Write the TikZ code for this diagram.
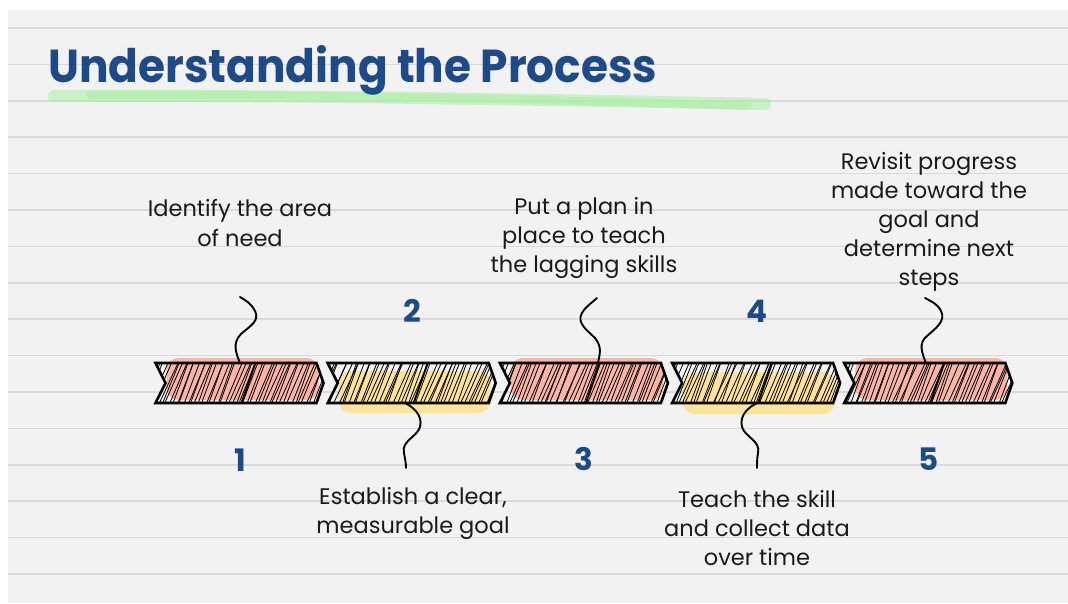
\documentclass[tikz,border=0pt]{standalone}
\usepackage{graphicx}
\usepackage{fontspec}
\setmainfont{Poppins}
\newfontfamily\titlefont{Poppins}
\definecolor{panel}{HTML}{F2F2F2}
\definecolor{ruleline}{HTML}{DADADA}
\definecolor{titleblue}{HTML}{1E4A87}
\definecolor{pinkblob}{HTML}{FBB5A6}
\definecolor{yellowblob}{HTML}{FEE39B}
\definecolor{greenmark}{HTML}{A9F0A2}
\definecolor{bodytext}{HTML}{1A1A1A}
\begin{document}
\begin{tikzpicture}[x=1pt,y=-1pt,
  body/.style={font=\fontsize{22.5}{29}\selectfont, text=bodytext, align=center, inner sep=0pt},
  num/.style={font=\titlefont\bfseries\fontsize{31}{31}\selectfont, text=titleblue, inner sep=0pt},
  chev/.style={draw=black, line width=2.6pt, line join=miter},
  hatch/.style={line width=0.8pt, draw=black},
  divider/.style={line width=1.9pt, draw=black},
  squig/.style={line width=1.9pt, line cap=round, draw=black},
  ruled/.style={draw=ruleline, line width=1.6pt},
  brush/.style={draw=greenmark, line cap=round}
]
\useasboundingbox (0,0) rectangle (1068,603);
\fill[white] (0,0) rectangle (1068,603);
\fill[panel] (8,10) rectangle (1068,603);
\foreach \i in {0,...,15} \draw[ruled] (8,28+36.4*\i) -- (1068,28+36.4*\i);

% title highlight
\draw[brush, opacity=0.55, line width=12pt] (54,96) .. controls (300,95) and (500,99) .. (765,104);
\draw[brush, opacity=0.5, line width=8pt] (90,95) .. controls (300,94) and (550,99) .. (748,106);
\node[anchor=base west, inner sep=0pt, text=titleblue] (title) at (48,82)
  {\resizebox{609pt}{37pt}{\titlefont\bfseries Understanding the Process}};

% chevrons
\pgfmathsetseed{11}
\foreach \i/\col/\ya in {0/pinkblob/358,1/yellowblob/371,2/pinkblob/358,3/yellowblob/372,4/pinkblob/358}{
  \pgfmathsetmacro\L{155.5+172.2*\i}
  \fill[\col, rounded corners=12pt] (\L+11,\ya) rectangle (\L+163,\ya+42);
  \begin{scope}
    \clip (\L,363) -- (\L+161,363) -- (\L+168,383) -- (\L+161,403) -- (\L,403) -- (\L+10,383) -- cycle;
    \foreach \k in {-8,...,46}{
      \pgfmathsetmacro\hx{\L+\k*3.7+3*rnd}
      \pgfmathsetmacro\hd{16+6*rnd}
      \draw[hatch] (\hx,406) -- (\hx+\hd,360);
    }
  \end{scope}
  \draw[divider] (\L+100,363) -- (\L+86,403);
  \draw[chev] (\L,363) -- (\L+161,363) -- (\L+168,383) -- (\L+161,403) -- (\L,403) -- (\L+10,383) -- cycle;
}

% labels
\node[body] (l1) at (240,223) {Identify the area\\of need};
\node[body] (l2) at (413,513) {Establish a clear,\\measurable goal};
\node[body] (l3) at (584,238) {Put a plan in\\place to teach\\the lagging skills};
\node[body] (l4) at (757,528) {Teach the skill\\and collect data\\over time};
\node[body] (l5) at (929,222) {Revisit progress\\made toward the\\goal and\\determine next\\steps};

% numbers
\node[num] (n1) at (240,460) {1};
\node[num] (n2) at (412,311) {2};
\node[num] (n3) at (584,459) {3};
\node[num] (n4) at (757,311) {4};
\node[num] (n5) at (929,459) {5};

% squiggle connectors
\begin{scope}[shift={(240,363)}]
  \coordinate (a1) at (0,0); \coordinate (b1) at (0,-66);
  \draw[squig] (a1) .. controls (-4,-10) and (-8,-20) .. (1,-29) .. controls (10,-37) and (20,-42) .. (15,-52) .. controls (11,-60) and (5,-63) .. (b1);
\end{scope}
\begin{scope}[shift={(598,363)}]
  \coordinate (a3) at (0,0); \coordinate (b3) at (-1,-65);
  \draw[squig] (a3) .. controls (2,-10) and (4,-16) .. (-3,-25) .. controls (-10,-32) and (-22,-40) .. (-16,-50) .. controls (-12,-57) and (-5,-61) .. (b3);
\end{scope}
\begin{scope}[shift={(926,363)}]
  \coordinate (a5) at (0,0); \coordinate (b5) at (-1,-65);
  \draw[squig] (a5) .. controls (-4,-10) and (-8,-20) .. (1,-27) .. controls (10,-35) and (20,-42) .. (15,-52) .. controls (11,-60) and (4,-62) .. (b5);
\end{scope}
\begin{scope}[shift={(405,403)}]
  \coordinate (a2) at (0,0); \coordinate (b2) at (1,65);
  \draw[squig] (a2) .. controls (8,4) and (18,12) .. (15,24) .. controls (12,34) and (-4,38) .. (-1,50) .. controls (0,56) and (1,60) .. (b2);
\end{scope}
\begin{scope}[shift={(757,403)}]
  \coordinate (a4) at (0,0); \coordinate (b4) at (0,65);
  \draw[squig] (a4) .. controls (-8,4) and (-18,12) .. (-15,24) .. controls (-12,34) and (4,38) .. (1,50) .. controls (0,56) and (0,60) .. (b4);
\end{scope}
\end{tikzpicture}
\end{document}
